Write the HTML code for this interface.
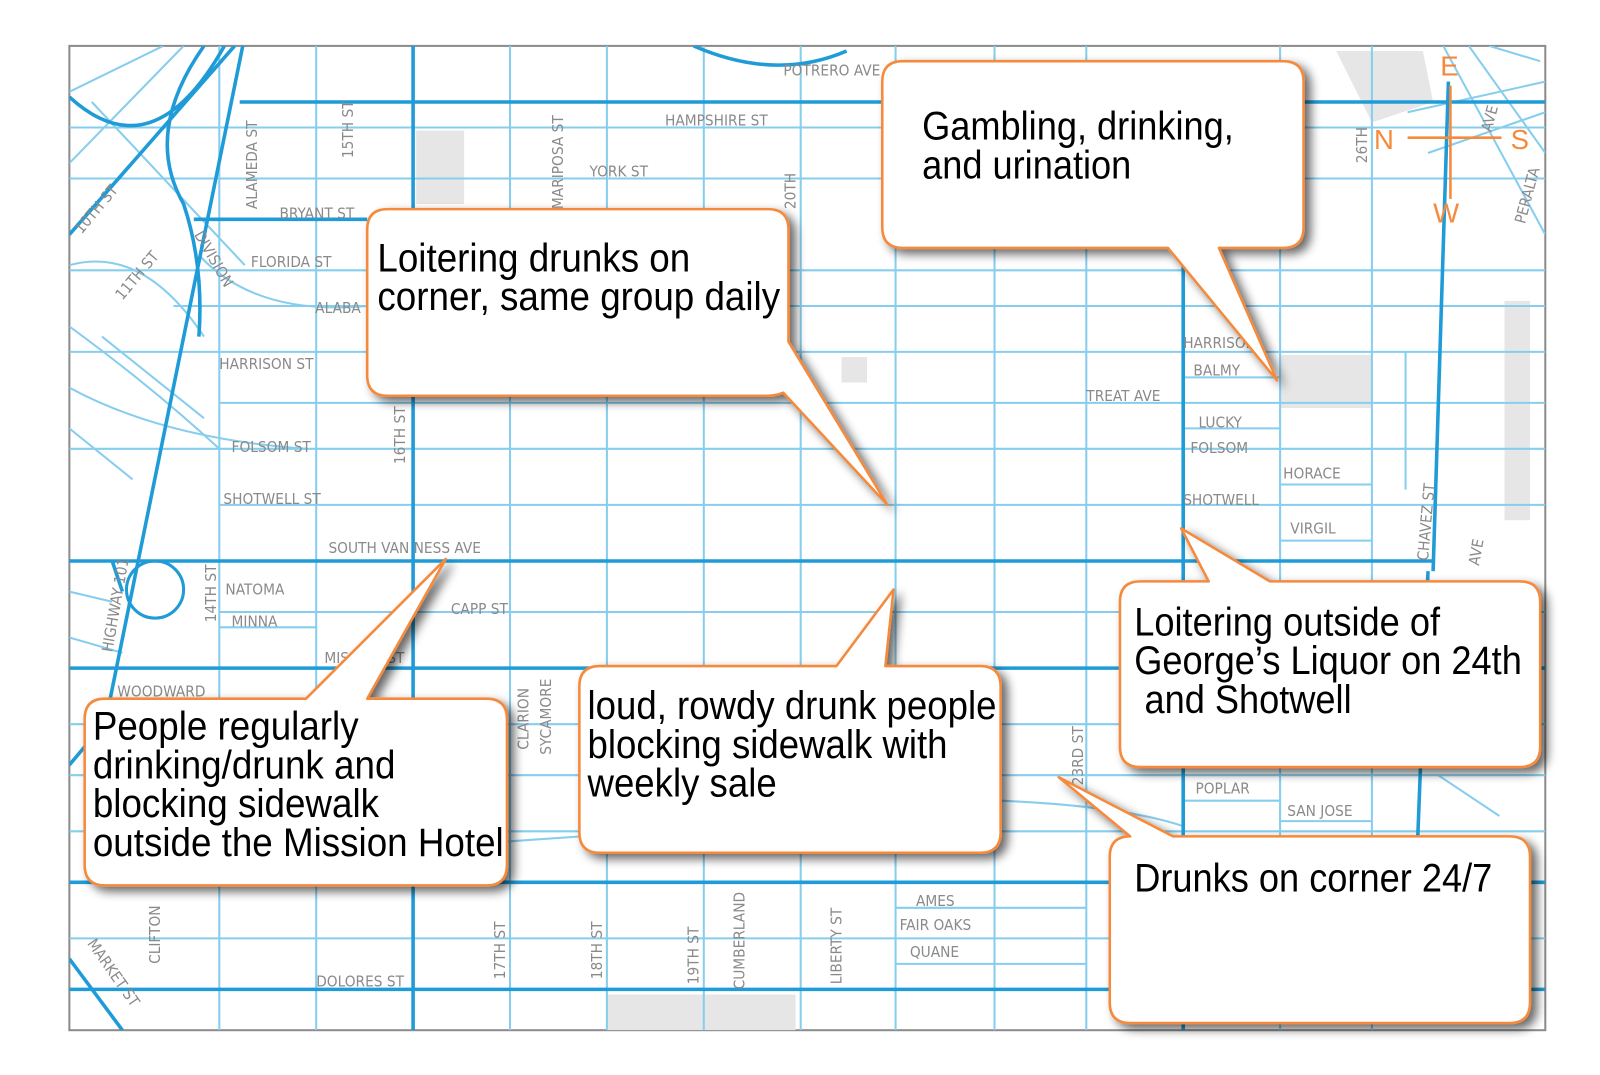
<!DOCTYPE html>
<html><head><meta charset="utf-8"><style>
html,body{margin:0;padding:0;background:#fff;width:1600px;height:1075px;overflow:hidden}
svg{display:block}
.lbl{font-family:"DejaVu Sans Condensed","Liberation Sans",sans-serif;font-size:15px;fill:#8a8a8a}
.ct{font-family:"Liberation Sans",sans-serif;font-size:39px;fill:#000}
</style></head><body>
<svg width="1600" height="1075" viewBox="0 0 1600 1075" xmlns="http://www.w3.org/2000/svg">
<defs>
<filter id="sh" x="-20%" y="-20%" width="140%" height="140%"><feGaussianBlur in="SourceAlpha" stdDeviation="5"/><feOffset dx="6" dy="5"/><feComponentTransfer><feFuncA type="linear" slope="0.6"/></feComponentTransfer><feMerge><feMergeNode/><feMergeNode in="SourceGraphic"/></feMerge></filter>
<clipPath id="mc"><rect x="68" y="45" width="1447" height="965"/></clipPath>
</defs>
<g transform="scale(1.02)">
<rect x="68" y="45" width="1447" height="965" fill="#fff" stroke="#8c8c8c" stroke-width="2"/>
<g clip-path="url(#mc)">
<g fill="#e6e6e6">
<rect x="408" y="128" width="47" height="72"/>
<path d="M1310 50 L1395 50 L1405 100 L1345 120 Z"/>
<rect x="1255" y="348" width="90" height="52"/>
<rect x="595" y="975" width="185" height="35"/>
<rect x="1475" y="295" width="25" height="215"/>
<rect x="825" y="350" width="25" height="25"/>
</g>
<g stroke="#86cdee" stroke-width="2" fill="none">
<line x1="215" y1="45" x2="215" y2="1010"/><line x1="310" y1="45" x2="310" y2="1010"/>
<line x1="500" y1="45" x2="500" y2="1010"/><line x1="595" y1="45" x2="595" y2="1010"/>
<line x1="690" y1="45" x2="690" y2="1010"/><line x1="785" y1="45" x2="785" y2="1010"/>
<line x1="878" y1="45" x2="878" y2="1010"/><line x1="975" y1="45" x2="975" y2="1010"/>
<line x1="1065" y1="45" x2="1065" y2="1010"/><line x1="1255" y1="45" x2="1255" y2="1010"/>
<line x1="1345" y1="45" x2="1345" y2="1010"/><line x1="1378" y1="345" x2="1378" y2="480"/>
<line x1="68" y1="125" x2="1515" y2="125"/><line x1="68" y1="175" x2="1515" y2="175"/>
<line x1="68" y1="265" x2="1515" y2="265"/><line x1="170" y1="300" x2="1515" y2="300"/>
<line x1="68" y1="345" x2="1515" y2="345"/><line x1="215" y1="395" x2="1515" y2="395"/>
<line x1="68" y1="440" x2="1515" y2="440"/><line x1="215" y1="495" x2="1515" y2="495"/>
<line x1="215" y1="600" x2="1515" y2="600"/><line x1="215" y1="615" x2="310" y2="615"/>
<line x1="68" y1="710" x2="1515" y2="710"/><line x1="68" y1="760" x2="1515" y2="760"/>
<line x1="68" y1="815" x2="1515" y2="815"/><line x1="68" y1="920" x2="1515" y2="920"/>
<line x1="878" y1="890" x2="1065" y2="890"/><line x1="878" y1="945" x2="1065" y2="945"/>
<line x1="1160" y1="420" x2="1255" y2="420"/><line x1="1160" y1="370" x2="1255" y2="370"/>
<line x1="1255" y1="475" x2="1345" y2="475"/><line x1="1255" y1="530" x2="1345" y2="530"/>
<line x1="1160" y1="785" x2="1255" y2="785"/><line x1="1255" y1="805" x2="1345" y2="805"/>
<path d="M68 90 L160 45"/><path d="M68 160 L180 45"/><path d="M90 100 L240 260"/>
<path d="M68 260 Q140 240 200 330"/><path d="M195 250 Q250 310 360 300"/>
<path d="M68 320 Q150 380 215 440"/><path d="M68 380 Q160 430 300 440"/>
<path d="M100 330 L200 410"/><path d="M68 420 L130 470"/>
<path d="M1415 45 L1515 230"/><path d="M1440 45 L1515 150"/><path d="M1460 45 L1510 60"/>
<path d="M1380 110 L1515 80"/><path d="M1400 150 L1515 110"/>
<path d="M68 580 L110 590"/><path d="M68 625 L120 640"/>
<path d="M981 785 Q1100 790 1160 810"/><path d="M497 825 L570 820"/>
<path d="M1410 760 L1470 800"/>
</g>
<g stroke="#1f9bd7" stroke-width="3.5" fill="none">
<line x1="235" y1="100" x2="1515" y2="100"/><line x1="190" y1="215" x2="360" y2="215"/>
<line x1="68" y1="550" x2="1405" y2="550"/><line x1="68" y1="655" x2="1515" y2="655"/>
<line x1="68" y1="865" x2="1515" y2="865"/><line x1="68" y1="970" x2="1515" y2="970"/>
<line x1="405" y1="45" x2="405" y2="1010"/><line x1="1160" y1="240" x2="1160" y2="1010"/>
<path d="M1420 80 L1405 560"/><path d="M1400 560 L1390 820"/>
<path d="M238 45 L105 700"/><path d="M120 1010 L68 940"/>
<path d="M68 95 Q150 170 220 45"/><path d="M68 230 L230 45"/>
<path d="M200 45 Q140 130 180 200 Q200 260 195 330"/>
<path d="M680 45 Q760 80 830 50"/>
<path d="M68 750 L110 700"/><path d="M120 580 L110 550"/>
</g>
<circle cx="152" cy="578" r="28" fill="none" stroke="#1f9bd7" stroke-width="3"/>
<g class="lbl">
<text x="768" y="74">POTRERO  AVE</text><text x="652" y="123">HAMPSHIRE    ST</text>
<text x="578" y="173">YORK   ST</text><text x="274" y="214">BRYANT  ST</text>
<text x="246" y="262">FLORIDA   ST</text><text x="309" y="307">ALABA</text>
<text x="215" y="362">HARRISON   ST</text><text x="227" y="443">FOLSOM   ST</text>
<text x="219" y="494">SHOTWELL   ST</text><text x="322" y="542">SOUTH VAN NESS    AVE</text>
<text x="221" y="583">NATOMA</text><text x="227" y="614">MINNA</text>
<text x="442" y="602">CAPP    ST</text><text x="318" y="650">MISSION    ST</text>
<text x="1065" y="393">TREAT  AVE</text><text x="1170" y="368">BALMY</text>
<text x="1175" y="419">LUCKY</text><text x="1167" y="444">FOLSOM</text>
<text x="1258" y="469">HORACE</text><text x="1160" y="495">SHOTWELL</text>
<text x="1265" y="523">VIRGIL</text><text x="1160" y="341">HARRISON</text>
<text x="1172" y="778">POPLAR</text><text x="1262" y="800">SAN JOSE</text>
<text x="898" y="888">AMES</text><text x="882" y="912">FAIR OAKS</text>
<text x="892" y="938">QUANE</text><text x="310" y="967">DOLORES    ST</text>
<text x="115" y="683">WOODWARD</text>
<text transform="translate(252,205) rotate(-90)">ALAMEDA ST</text>
<text transform="translate(346,155) rotate(-90)">15TH ST</text>
<text transform="translate(552,205) rotate(-90)">MARIPOSA ST</text>
<text transform="translate(780,205) rotate(-90)">20TH</text>
<text transform="translate(397,455) rotate(-90)">16TH ST</text>
<text transform="translate(212,610) rotate(-90)">14TH  ST</text>
<text transform="translate(110,640) rotate(-80)">HIGHWAY  101</text>
<text transform="translate(80,230) rotate(-50)">10TH ST</text>
<text transform="translate(120,295) rotate(-50)">11TH ST</text>
<text transform="translate(190,230) rotate(60)">DIVISION</text>
<text transform="translate(518,735) rotate(-90)">CLARION</text>
<text transform="translate(540,740) rotate(-90)">SYCAMORE</text>
<text transform="translate(157,945) rotate(-90)">CLIFTON</text>
<text transform="translate(495,960) rotate(-90)">17TH  ST</text>
<text transform="translate(590,960) rotate(-90)">18TH  ST</text>
<text transform="translate(685,965) rotate(-90)">19TH  ST</text>
<text transform="translate(730,970) rotate(-90)">CUMBERLAND</text>
<text transform="translate(825,965) rotate(-90)">LIBERTY  ST</text>
<text transform="translate(1062,770) rotate(-90)">23RD  ST</text>
<text transform="translate(1340,160) rotate(-90)">26TH</text>
<text transform="translate(1400,550) rotate(-85)">CHAVEZ   ST</text>
<text transform="translate(1450,555) rotate(-80)">AVE</text>
<text transform="translate(1495,220) rotate(-75)">PERALTA</text>
<text transform="translate(1462,130) rotate(-75)">AVE</text>
<text transform="translate(85,925) rotate(55)">MARKET ST</text>
</g>
</g>
<g stroke="#f58a3c" stroke-width="2.5"><line x1="1380" y1="135" x2="1472" y2="135"/><line x1="1422" y1="84" x2="1422" y2="195"/></g>
<g font-family="Liberation Sans,sans-serif" font-size="27" fill="#f58a3c">
<text x="1412" y="74">E</text><text x="1347" y="146">N</text><text x="1481" y="146">S</text><text x="1405" y="218">W</text>
</g>
<g fill="#fff" stroke="#f58a3c" stroke-width="2.5" filter="url(#sh)" stroke-linejoin="round">
<path d="M885 60 H1258 Q1278 60 1278 80 V223 Q1278 243 1258 243 H1195 L1252 373 L1145 243 H885 Q865 243 865 223 V80 Q865 60 885 60 Z"/>
<path d="M380 205 H753 Q773 205 773 225 V335 L870 495 L768 385 Q760 388 753 388 H380 Q360 388 360 368 V225 Q360 205 380 205 Z"/>
<path d="M103 685 H300 L437 548 L360 685 H477 Q497 685 497 705 V848 Q497 868 477 868 H103 Q83 868 83 848 V705 Q83 685 103 685 Z"/>
<path d="M588 653 H820 L876 578 L868 653 H961 Q981 653 981 673 V816 Q981 836 961 836 H588 Q568 836 568 816 V673 Q568 653 588 653 Z"/>
<path d="M1118 570 H1185 L1158 518 L1245 570 H1490 Q1510 570 1510 590 V732 Q1510 752 1490 752 H1118 Q1098 752 1098 732 V590 Q1098 570 1118 570 Z"/>
<path d="M1108 820 L1038 762 L1150 820 H1480 Q1500 820 1500 840 V983 Q1500 1003 1480 1003 H1108 Q1088 1003 1088 983 V840 Q1088 820 1108 820 Z"/>
</g>
<g class="ct">
<g transform="translate(904,137) scale(0.91,1)"><text x="0" y="0">Gambling, drinking,</text><text x="0" y="38">and urination</text></g>
<g transform="translate(370,266) scale(0.925,1)"><text x="0" y="0">Loitering drunks on</text><text x="0" y="38">corner, same group daily</text></g>
<g transform="translate(91,725) scale(0.925,1)"><text x="0" y="0">People regularly</text><text x="0" y="38">drinking/drunk and</text><text x="0" y="76">blocking sidewalk</text><text x="0" y="114">outside the Mission Hotel</text></g>
<g transform="translate(576,705) scale(0.92,1)"><text x="0" y="0">loud, rowdy drunk people</text><text x="0" y="38">blocking sidewalk with</text><text x="0" y="76">weekly sale</text></g>
<g transform="translate(1112,623) scale(0.91,1)"><text x="0" y="0">Loitering outside of</text><text x="0" y="38">George’s Liquor on 24th</text><text x="11" y="76">and Shotwell</text></g>
<g transform="translate(1112,874) scale(0.91,1)"><text x="0" y="0">Drunks on corner 24/7</text></g>
</g>
</g>
</svg>
</body></html>
